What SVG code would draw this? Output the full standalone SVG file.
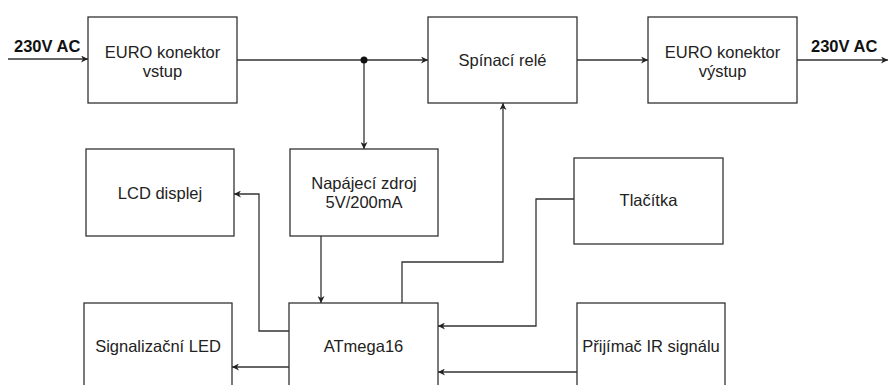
<svg xmlns="http://www.w3.org/2000/svg" width="888" height="385" viewBox="0 0 888 385">
<defs>
<style>
.box{fill:#fff;stroke:#333;stroke-width:1.3}
.t{font-family:"Liberation Sans",Arial,sans-serif;font-size:16.5px;fill:#222;text-anchor:middle}
.lbl{font-family:"Liberation Sans",Arial,sans-serif;font-size:16.5px;font-weight:bold;fill:#111}
.c{fill:none;stroke:#333;stroke-width:1.3}
</style>
<marker id="a" viewBox="0 0 10 10" refX="10" refY="5" markerWidth="7" markerHeight="7" markerUnits="userSpaceOnUse" orient="auto">
<path d="M0,0 L10,5 L0,10 L3,5 Z" fill="#222"/>
</marker>
</defs>
<rect width="888" height="385" fill="#fff"/>
<g id="connectors">
<path class="c" d="M8,59 H88" marker-end="url(#a)"/>
<path class="c" d="M237,60 H428" marker-end="url(#a)"/>
<path class="c" d="M577,60 H648" marker-end="url(#a)"/>
<path class="c" d="M797,60 H888" marker-end="url(#a)"/>
<path class="c" d="M364,60 V149" marker-end="url(#a)"/>
<path class="c" d="M321,236 V303" marker-end="url(#a)"/>
<path class="c" d="M289,331 H259 V194 H234" marker-end="url(#a)"/>
<path class="c" d="M289,367 H232" marker-end="url(#a)"/>
<path class="c" d="M402,303 V262 H503 V103" marker-end="url(#a)"/>
<path class="c" d="M574,199 H536 V326 H438" marker-end="url(#a)"/>
<path class="c" d="M577,372 H438" marker-end="url(#a)"/>
<circle cx="364" cy="60" r="3.5" fill="#111"/>
<text class="lbl" x="14" y="52">230V AC</text>
<text class="lbl" x="811" y="52">230V AC</text>
</g>
<g id="euro-vstup"><rect class="box" x="88" y="17" width="149" height="86"/><text class="t" x="162.5" y="58">EURO konektor</text><text class="t" x="162.5" y="77">vstup</text></g>
<g id="spinaci-rele"><rect class="box" x="428" y="17" width="149" height="86"/><text class="t" x="502.5" y="66">Spínací relé</text></g>
<g id="euro-vystup"><rect class="box" x="648" y="17" width="149" height="86"/><text class="t" x="722.5" y="58">EURO konektor</text><text class="t" x="722.5" y="77">výstup</text></g>
<g id="lcd"><rect class="box" x="86" y="149" width="148" height="87"/><text class="t" x="160" y="199">LCD displej</text></g>
<g id="napajeci"><rect class="box" x="290" y="149" width="148" height="87"/><text class="t" x="364" y="189">Napájecí zdroj</text><text class="t" x="364" y="208">5V/200mA</text></g>
<g id="tlacitka"><rect class="box" x="574" y="158" width="149" height="86"/><text class="t" x="648.5" y="206">Tlačítka</text></g>
<g id="led"><rect class="box" x="84" y="303" width="148" height="100"/><text class="t" x="158" y="352">Signalizační LED</text></g>
<g id="atmega"><rect class="box" x="289" y="303" width="149" height="100"/><text class="t" x="363.5" y="352">ATmega16</text></g>
<g id="ir"><rect class="box" x="577" y="303" width="148" height="100"/><text class="t" x="651" y="352">Přijímač IR signálu</text></g>
</svg>
